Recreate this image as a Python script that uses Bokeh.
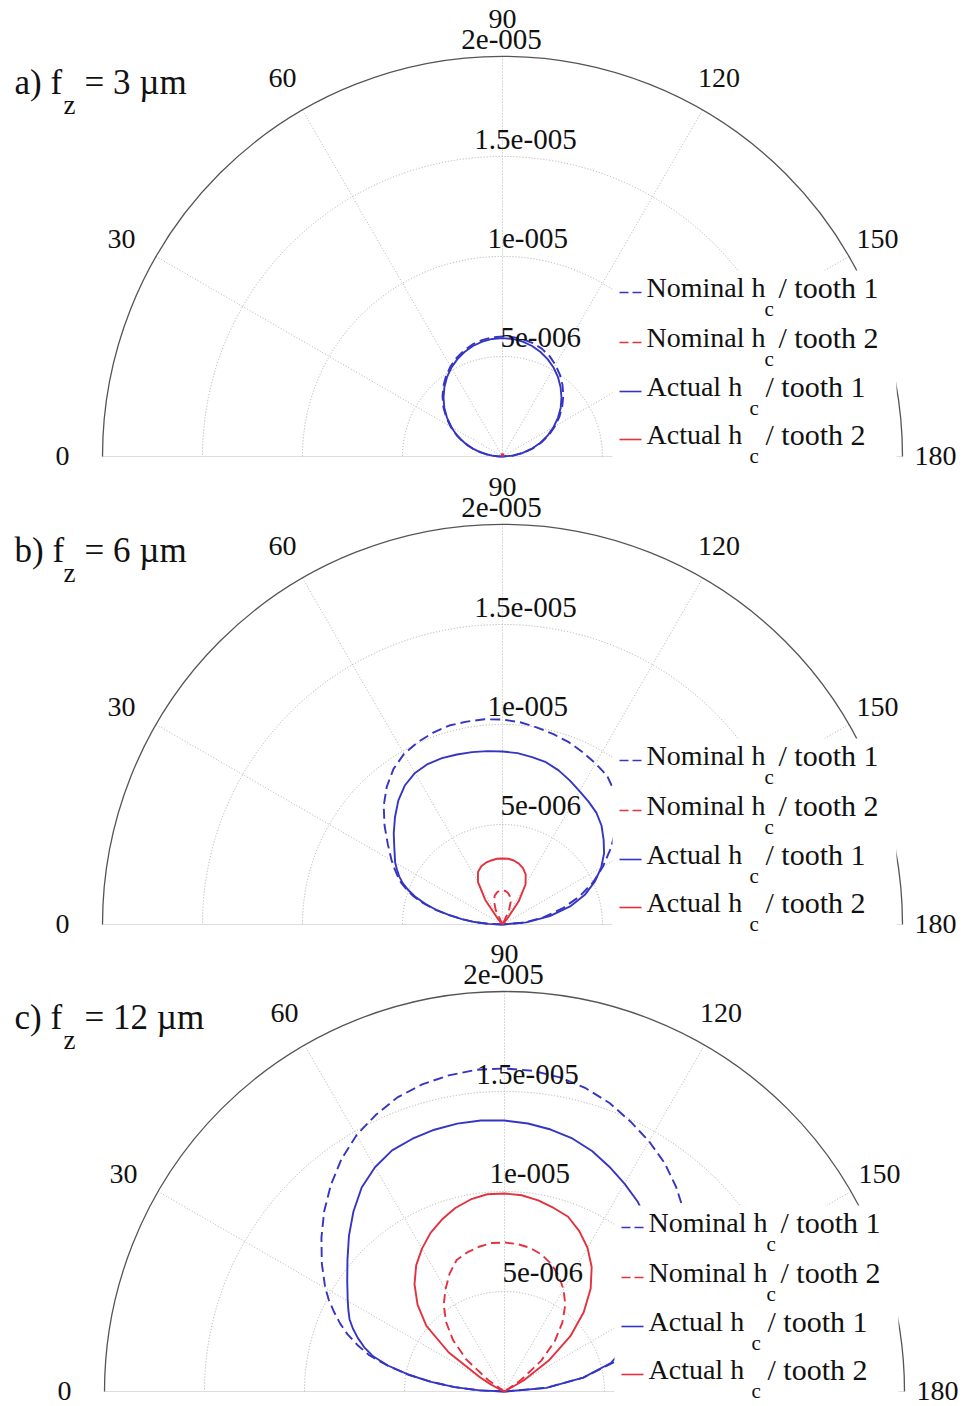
import numpy as np
from bokeh.plotting import figure
from bokeh.models import Range1d
from bokeh.embed import file_html
from bokeh.resources import INLINE
from bokeh.core.properties import value

# ---------------- data (radius values in micrometres, angle in degrees) ----------------
angles_deg = [0, 2.5, 5, 7.5, 10, 12.5, 15, 17.5, 20, 22.5, 25, 27.5, 30,
              35, 40, 45, 50, 55, 60, 65, 70, 75, 80, 85, 90,
              95, 100, 105, 110, 115, 120, 125, 130, 135, 140, 145, 150, 155, 160, 165, 170, 175, 180]

# a) fz = 3 um
a_nom1 = [0, 0.26, 0.52, 0.78, 1.04, 1.30, 1.55, 1.80, 2.05, 2.30, 2.54, 2.77, 3.0,
          3.44, 3.86, 4.24, 4.6, 4.92, 5.2, 5.44, 5.64, 5.8, 5.91, 5.98, 6.0,
          5.99, 5.95, 5.87, 5.74, 5.55, 5.29, 5.0, 4.67, 4.3, 3.9, 3.48, 3.03, 2.57, 2.08, 1.57, 1.06, 0.53, 0]
a_nom2 = [0] * 43
a_act1 = [0, 0.26, 0.51, 0.77, 1.02, 1.28, 1.53, 1.78, 2.02, 2.26, 2.5, 2.73, 2.95,
          3.39, 3.8, 4.17, 4.52, 4.84, 5.12, 5.36, 5.56, 5.72, 5.83, 5.9, 5.92,
          5.9, 5.83, 5.72, 5.56, 5.36, 5.12, 4.84, 4.52, 4.17, 3.8, 3.39, 2.95, 2.5, 2.02, 1.53, 1.02, 0.51, 0]
a_act2 = [0, 0, 0, 0, 0, 0, 0, 0, 0, 0, 0, 0, 0,
          0, 0, 0, 0, 0, 0.05, 0.08, 0.1, 0.12, 0.12, 0.12, 0.12,
          0.12, 0.12, 0.12, 0.1, 0.08, 0.05, 0, 0, 0, 0, 0, 0, 0, 0, 0, 0, 0, 0]

# b) fz = 6 um
b_nom1 = [0, 0.7, 1.4, 2.05, 2.7, 3.45, 4.1, 4.65, 5.1, 5.5, 5.8, 6.1, 6.4,
          7.0, 7.7, 8.4, 9.0, 9.5, 9.85, 10.05, 10.2, 10.3, 10.3, 10.3, 10.25,
          10.15, 10.0, 9.85, 9.7, 9.5, 9.3, 9.1, 8.7, 8.1, 7.4, 6.6, 5.8, 5.0, 4.1, 3.1, 2.1, 1.1, 0]
b_nom2 = [0, 0, 0, 0, 0, 0, 0, 0, 0, 0, 0, 0, 0,
          0, 0, 0, 0, 0, 0, 0.8, 1.25, 1.5, 1.62, 1.7, 1.7,
          1.68, 1.6, 1.45, 1.2, 0.75, 0, 0, 0, 0, 0, 0, 0, 0, 0, 0, 0, 0, 0]
b_act1 = [0, 0.7, 1.4, 2.05, 2.7, 3.4, 4.0, 4.55, 5.0, 5.4, 5.7, 5.95, 6.2,
          6.6, 7.1, 7.6, 8.1, 8.5, 8.75, 8.85, 8.85, 8.8, 8.75, 8.7, 8.65,
          8.6, 8.5, 8.4, 8.2, 7.95, 7.7, 7.5, 7.3, 7.0, 6.6, 6.2, 5.7, 5.1, 4.4, 3.5, 2.4, 1.2, 0]
b_act2 = [0, 0, 0, 0, 0, 0, 0, 0, 0, 0, 0, 0, 0,
          0, 0, 0, 0.3, 1.5, 2.45, 2.9, 3.1, 3.2, 3.25, 3.3, 3.3,
          3.3, 3.25, 3.15, 3.0, 2.75, 2.3, 1.4, 0.3, 0, 0, 0, 0, 0, 0, 0, 0, 0, 0]

# c) fz = 12 um
c_nom1 = [0, 1.25, 2.5, 3.7, 4.9, 6.0, 7.0, 7.7, 8.35, 8.9, 9.4, 9.9, 10.35,
          11.15, 11.95, 12.75, 13.5, 14.2, 14.8, 15.25, 15.65, 15.9, 16.05, 16.15, 16.15,
          16.1, 15.95, 15.7, 15.35, 14.9, 14.45, 13.95, 13.35, 12.7, 11.9, 10.9, 9.8, 8.5, 7.1, 5.7, 4.0, 2.1, 0]
c_nom2 = [0, 0, 0, 0, 0, 0, 0, 0, 0, 0, 0, 0, 0,
          1.0, 2.5, 3.65, 4.55, 5.3, 5.9, 6.5, 7.0, 7.2, 7.35, 7.45, 7.45,
          7.4, 7.3, 7.1, 6.8, 6.4, 5.9, 5.3, 4.5, 3.55, 2.4, 1.0, 0, 0, 0, 0, 0, 0, 0]
c_act1 = [0, 1.25, 2.5, 3.7, 4.9, 5.95, 6.8, 7.35, 7.8, 8.2, 8.55, 8.8, 9.05,
          9.6, 10.25, 11.0, 11.75, 12.45, 12.95, 13.3, 13.45, 13.55, 13.6, 13.6, 13.55,
          13.45, 13.3, 13.1, 12.8, 12.4, 12.0, 11.6, 11.1, 10.5, 9.8, 9.0, 8.2, 7.3, 6.4, 5.5, 4.0, 2.1, 0]
c_act2 = [0, 0, 0, 0, 0, 0, 0, 0, 0, 0.1, 0.35, 0.8, 1.4,
          3.4, 5.1, 6.15, 7.0, 7.7, 8.25, 8.75, 9.15, 9.5, 9.75, 9.9, 9.9,
          9.85, 9.7, 9.5, 9.3, 8.85, 8.3, 7.6, 6.7, 5.6, 4.3, 2.7, 1.1, 0, 0, 0, 0, 0, 0]

ring_values = [5, 10, 15, 20]
ring_labels = ["5e-006", "1e-005", "1.5e-005", "2e-005"]
spoke_angles = [30, 60, 90, 120, 150]
angle_tick_values = [0, 30, 60, 90, 120, 150, 180]
angle_tick_labels = ["0", "30", "60", "90", "120", "150", "180"]

series_names = ["Nominal h", "Nominal h", "Actual h", "Actual h"]
series_tails = ["/ tooth 1", "/ tooth 2", "/ tooth 1", "/ tooth 2"]

panel_prefix = ["a) f", "b) f", "c) f"]
panel_suffix = ["= 3 \u00b5m", "= 6 \u00b5m", "= 12 \u00b5m"]
panel_series = [
    [a_nom1, a_nom2, a_act1, a_act2],
    [b_nom1, b_nom2, b_act1, b_act2],
    [c_nom1, c_nom2, c_act1, c_act2],
]

# ---------------- styling / layout ----------------
BLUE = "#3535c4"
RED = "#e2313f"
series_colors = [BLUE, RED, BLUE, RED]
series_dash = ["10 5", "9 5", "solid", "solid"]
FONT = value("Liberation Serif")
TXT = "#111111"
W, H = 963, 1406
S = 20.0  # px per micrometre
PANEL_CX = [502, 502, 504]     # polar centres, px from left
PANEL_CY = [456, 924, 1391]    # polar centres, px from top

p = figure(width=W, height=H, x_range=Range1d(0, W / S), y_range=Range1d(-H / S, 0),
           output_backend="svg", toolbar_location=None,
           x_axis_type=None, y_axis_type=None, min_border=0, outline_line_color=None)
p.background_fill_color = "white"
p.border_fill_color = "white"

th = np.radians(np.array(angles_deg, dtype=float))
rmax = ring_values[-1]


def draw_panel(i):
    ox = PANEL_CX[i] / S
    oy = -PANEL_CY[i] / S

    def X(v):
        return list(np.asarray(v, dtype=float) + ox)

    def Y(v):
        return list(np.asarray(v, dtype=float) + oy)

    # dotted rings
    for r in ring_values[:-1]:
        p.arc(x=ox, y=oy, radius=r, start_angle=0, end_angle=np.pi,
              line_color="#a9a9a9", line_dash="1 2", line_width=1)
    # spokes
    for a in spoke_angles:
        t = np.radians(a)
        p.line(X([0, -rmax * np.cos(t)]), Y([0, rmax * np.sin(t)]),
               line_color="#b4b4b4", line_dash="1 2", line_width=1)
    p.line(X([-rmax, rmax]), Y([0, 0]), line_color="#bdbdbd", line_dash="1 1", line_width=1)
    # outer ring
    p.arc(x=ox, y=oy, radius=rmax, start_angle=0, end_angle=np.pi,
          line_color="#555555", line_width=1.3)

    # curves
    for vals, col, dash in zip(panel_series[i], series_colors, series_dash):
        r = np.array(vals, dtype=float)
        p.line(X(-r * np.cos(th)), Y(r * np.sin(th)), line_color=col, line_dash=dash,
               line_width=1.9, line_join="round")

    # legend background (hides what lies beneath it)
    p.quad(left=ox + 110 / S, right=ox + 394 / S, bottom=oy - 0.7, top=oy + 9.3,
           fill_color="white", line_color=None)

    # legend entries
    entry_y = [8.45, 5.95, 3.5, 1.1]
    sub_x = [13.1, 13.1, 12.35, 12.35]
    tail_x = [13.8, 13.8, 13.15, 13.15]
    for k in range(4):
        y = entry_y[k]
        p.line(X([5.85, 6.95]), Y([y - 0.25, y - 0.25]), line_color=series_colors[k],
               line_dash="9 4" if series_dash[k] != "solid" else "solid", line_width=1.6)
        p.text(x=X([7.2]), y=Y([y]), text=[series_names[k]], text_font=FONT,
               text_font_size=value("28px"), text_align="left", text_baseline="middle",
               text_color=TXT)
        p.text(x=X([sub_x[k]]), y=Y([y - 1.05]), text=["c"], text_font=FONT,
               text_font_size=value("21px"), text_align="left", text_baseline="middle",
               text_color=TXT)
        p.text(x=X([tail_x[k]]), y=Y([y]), text=[series_tails[k]], text_font=FONT,
               text_font_size=value("30px"), text_align="left", text_baseline="middle",
               text_color=TXT)

    # angle labels
    rl = 1.1 * rmax
    ta = np.radians(np.array(angle_tick_values, dtype=float))
    lx = -rl * np.cos(ta) - 0.35 * np.clip(-np.cos(ta), 0, None)
    ly = np.where(np.sin(ta) > 0.01, rl * np.sin(ta) - 0.12, 0.05)
    p.text(x=X(lx), y=Y(ly), text=angle_tick_labels,
           text_font=FONT, text_font_size=value("28px"), text_align="center",
           text_baseline="middle", text_color=TXT)

    # radial labels
    rv = np.array(ring_values, dtype=float)
    p.text(x=X(-rv * 0.1305 + 0.55), y=Y(rv * 0.9914 + 1.0), text=ring_labels,
           text_font=FONT, text_font_size=value("29px"), text_align="left",
           text_baseline="middle", text_color=TXT)

    # panel title
    ty = 18.7
    p.text(x=X([(14 - PANEL_CX[i]) / S]), y=Y([ty]), text=[panel_prefix[i]], text_font=FONT,
           text_font_size=value("35px"), text_align="left", text_baseline="middle",
           text_color=TXT)
    p.text(x=X([(63 - PANEL_CX[i]) / S]), y=Y([ty - 1.1]), text=["z"], text_font=FONT,
           text_font_size=value("27px"), text_align="left", text_baseline="middle",
           text_color=TXT)
    p.text(x=X([(84 - PANEL_CX[i]) / S]), y=Y([ty]), text=[panel_suffix[i]], text_font=FONT,
           text_font_size=value("35px"), text_align="left", text_baseline="middle",
           text_color=TXT)


for i in range(3):
    draw_panel(i)

open("out.html", "w").write(file_html(p, INLINE))
